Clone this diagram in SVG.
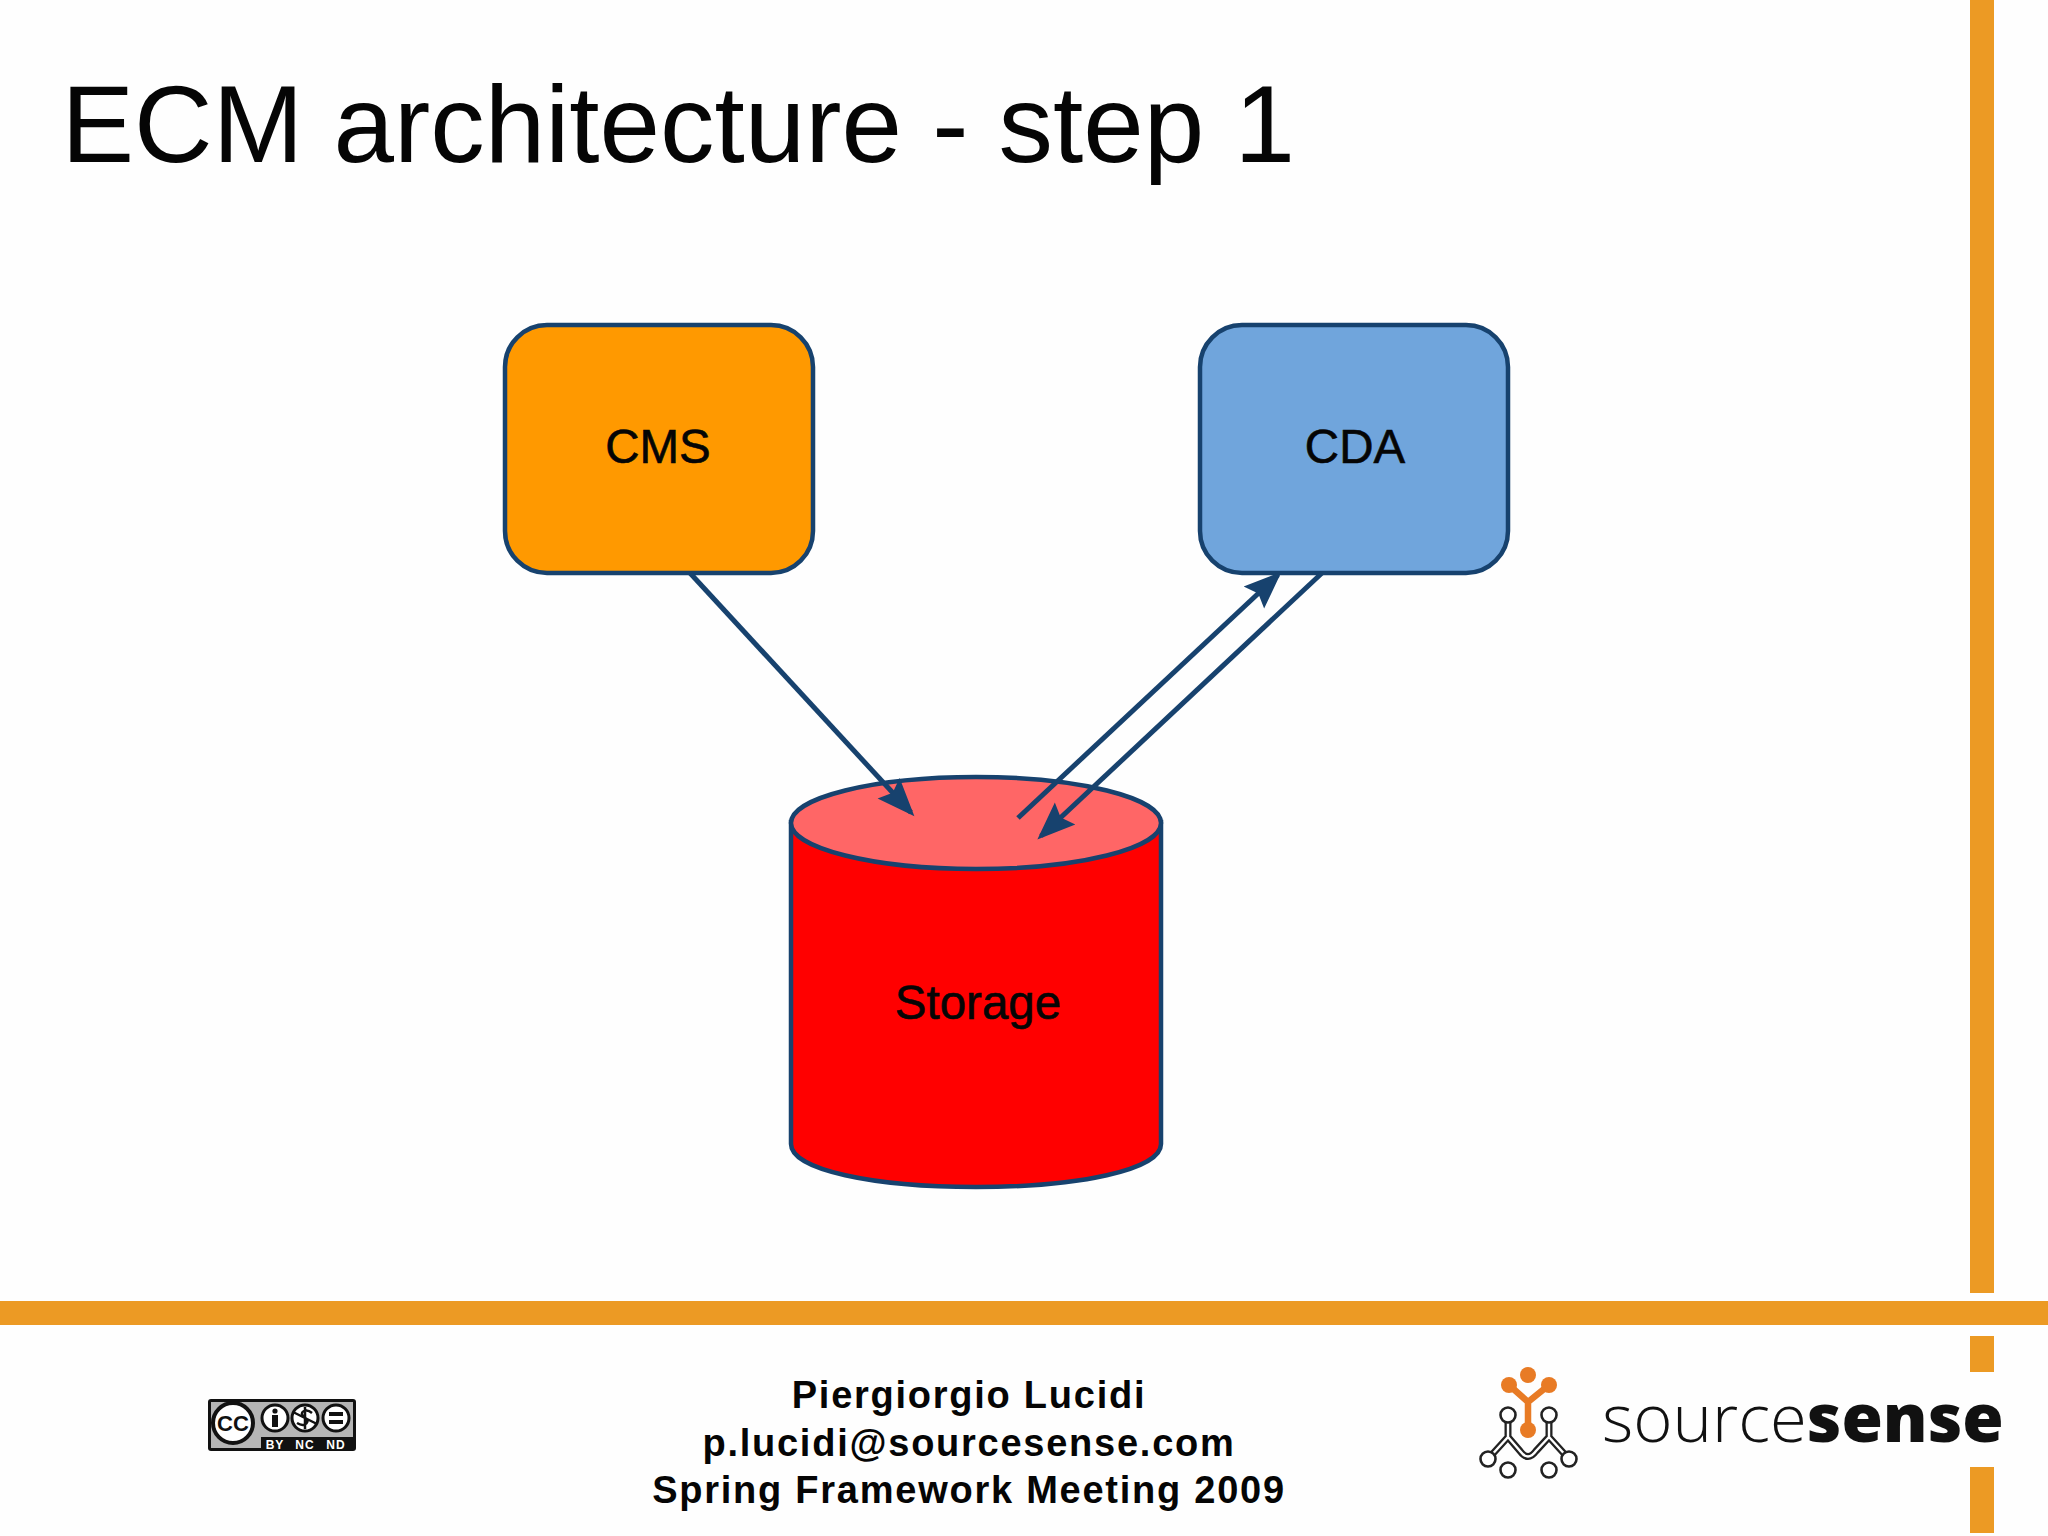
<svg xmlns="http://www.w3.org/2000/svg" width="2048" height="1536" viewBox="0 0 2048 1536">
<style>
text{font-family:"Liberation Sans",Arial,sans-serif;fill:#050505}
.box{stroke:#17426e;stroke-width:4.5}
.lbl{font-size:47.5px;text-anchor:middle;stroke:#050505;stroke-width:.6px}
.bar{fill:#ec9a24}
.conn{stroke:#17426e;stroke-width:5;fill:none;marker-end:url(#ah)}
.foot{font-size:38px;font-weight:bold;text-anchor:middle;letter-spacing:1.75px}
.ring{fill:#fff;stroke:#222;stroke-width:2.6}
.wire-o{fill:none;stroke:#222;stroke-width:7}
.wire-i{fill:none;stroke:#fff;stroke-width:2.4}
.org{fill:#e87b25}
.ccr{fill:#fff;stroke:#111;stroke-width:3}
.cct{fill:#fff;font-size:12px;font-weight:bold;text-anchor:middle;letter-spacing:1px}
</style>
<defs>
<marker id="ah" markerUnits="userSpaceOnUse" markerWidth="40" markerHeight="32" refX="33" refY="16" orient="auto">
<path d="M0 1 L38 16 L0 31 L6 16 Z" fill="#17426e"/>
</marker>
</defs>
<rect width="2048" height="1536" fill="#fefefe"/>
<g id="frame">
<rect class="bar" x="1970" y="0" width="24" height="1293"/>
<rect class="bar" x="0" y="1301" width="2048" height="24"/>
<rect class="bar" x="1970" y="1336" width="24" height="36"/>
<rect class="bar" x="1970" y="1467" width="24" height="66"/>
</g>
<text id="title" x="61.5" y="162" font-size="108.8">ECM architecture - step 1</text>
<g id="storage">
<path class="box" fill="#ff0000" d="M791 822 V1144 C791 1170 874 1187 976 1187 C1078 1187 1161 1170 1161 1144 V822 Z"/>
<ellipse class="box" fill="#ff6666" cx="976" cy="823" rx="185" ry="46"/>
<text class="lbl" x="978" y="1019">Storage</text>
</g>
<g id="cms">
<rect class="box" fill="#ff9900" x="505" y="325" width="308" height="248" rx="42" ry="42"/>
<text class="lbl" x="658" y="463">CMS</text>
</g>
<g id="cda">
<rect class="box" fill="#70a5dc" x="1200" y="325" width="308" height="248" rx="42" ry="42"/>
<text class="lbl" x="1355" y="463">CDA</text>
</g>
<g id="connectors">
<path class="conn" d="M690 573 L911 812.5"/>
<path class="conn" d="M1018 818 L1278 575"/>
<path class="conn" d="M1322 573 L1041 836"/>
</g>
<g id="footer-text">
<text class="foot" x="969" y="1408">Piergiorgio Lucidi</text>
<text class="foot" x="969" y="1456">p.lucidi@sourcesense.com</text>
<text class="foot" x="969" y="1503">Spring Framework Meeting 2009</text>
</g>
<g id="cc-badge">
<rect x="208" y="1399" width="148" height="52" rx="3" fill="#111"/>
<rect x="211" y="1402" width="142" height="35" fill="#b5b5b5"/>
<rect x="211" y="1437" width="50" height="11" fill="#b5b5b5"/>
<circle cx="233" cy="1423" r="20" fill="#fff" stroke="#111" stroke-width="4"/>
<text x="233" y="1431" font-size="22" font-weight="bold" text-anchor="middle" style="fill:#111">CC</text>
<circle class="ccr" cx="275" cy="1418" r="13"/>
<circle cx="275" cy="1411" r="2.6" fill="#111"/>
<rect x="272" y="1415" width="6" height="12" fill="#111"/>
<circle class="ccr" cx="305" cy="1418" r="13"/>
<path d="M312 1413 C306 1408 298 1412 304 1417 C312 1421 305 1428 297 1423 M305 1407 V1429 M293 1412 L317 1424" fill="none" stroke="#111" stroke-width="2.5"/>
<circle class="ccr" cx="336" cy="1418" r="13"/>
<rect x="329" y="1412" width="14" height="4" fill="#111"/>
<rect x="329" y="1420" width="14" height="4" fill="#111"/>
<text class="cct" x="275" y="1449">BY</text>
<text class="cct" x="305" y="1449">NC</text>
<text class="cct" x="336" y="1449">ND</text>
</g>
<g id="sourcesense-logo">
<path d="M1509 1385 L1528 1402 L1549 1385 M1528 1402 V1430" fill="none" stroke="#e87b25" stroke-width="6.5"/>
<circle class="org" cx="1528" cy="1375" r="8"/>
<circle class="org" cx="1509" cy="1385" r="8"/>
<circle class="org" cx="1549" cy="1385" r="8"/>
<circle class="org" cx="1528" cy="1430" r="8"/>
<path class="wire-o" d="M1508 1415 V1437 L1488 1459 M1508 1437 L1520 1451 Q1528 1462 1536 1451 L1549 1437 V1415 M1549 1437 L1569 1459"/>
<path class="wire-i" d="M1508 1415 V1437 L1488 1459 M1508 1437 L1520 1451 Q1528 1462 1536 1451 L1549 1437 V1415 M1549 1437 L1569 1459"/>
<circle class="ring" cx="1508" cy="1415" r="7.5"/>
<circle class="ring" cx="1549" cy="1415" r="7.5"/>
<circle class="ring" cx="1488" cy="1459" r="7.5"/>
<circle class="ring" cx="1569" cy="1459" r="7.5"/>
<circle class="ring" cx="1508" cy="1470" r="7.5"/>
<circle class="ring" cx="1549" cy="1470" r="7.5"/>
<text x="1602" y="1442" font-size="67" style="font-family:'Open Sans','Noto Sans',sans-serif;fill:#111"><tspan font-weight="300">source</tspan><tspan font-weight="800">sense</tspan></text>
</g>
</svg>
